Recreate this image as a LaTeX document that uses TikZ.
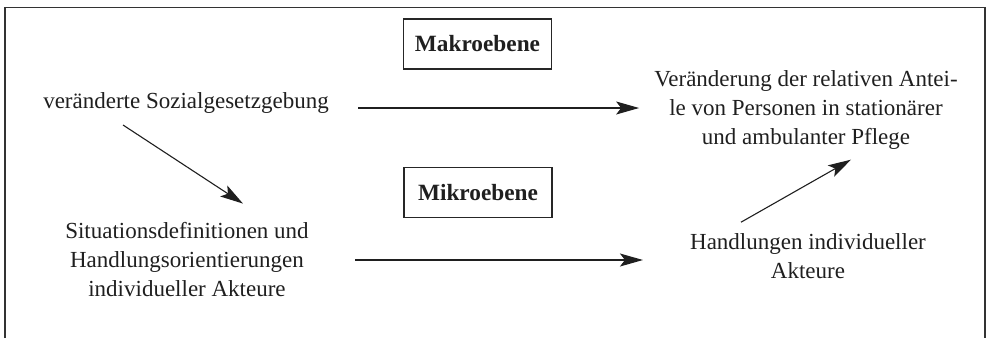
\documentclass[tikz,border=0pt]{standalone}
\usepackage{fontspec}
\setmainfont{Liberation Serif}
\usetikzlibrary{arrows.meta,calc}
\tikzset{
  txt/.style={font=\fontsize{23}{29}\selectfont, text=black!88, align=center, inner sep=0pt},
  lvl/.style={draw=black!85, line width=1.1pt, font=\fontsize{23.3}{26}\selectfont\bfseries, text=black!88, minimum width=148pt, minimum height=50pt, inner sep=0pt},
  arr/.style={draw=black!88, line width=1.1pt, -{Stealth[length=23pt,width=13pt,inset=5pt]}},
  frame/.style={draw=black!80, line width=1.3pt}
}
\begin{document}
\begin{tikzpicture}[x=1pt,y=-1pt]
\useasboundingbox (0,0) rectangle (988,338);
\draw[frame] (5,338) -- (5,7.5) -- (985,7.5) -- (985,338);
\node[lvl] (makro) at (477.5,44) {Makroebene};
\node[lvl] (mikro) at (478,192.5) {Mikroebene};
\node[txt, anchor=base] (sozial) at (186,108) {veränderte Sozialgesetzgebung};
\node[txt] (veraend) at (806,110) {Veränderung der relativen Antei-\\le von Personen in stationärer\\und ambulanter Pflege};
\node[txt] (situ) at (187,260) {Situationsdefinitionen und\\Handlungsorientierungen\\individueller Akteure};
\node[txt] (handl) at (808,256) {Handlungen individueller\\Akteure};
\draw[arr] ($(sozial.base)+(172,0)$) -- ($(veraend.west |- sozial.base)+(-15,0)$);
\draw[arr] ($(situ.center)+(168,0)$) -- ($(handl.west |- situ.center)+(-47,0)$);
\draw[arr] ($(sozial.base)+(-63,17)$) -- ($(situ.north)+(56,-19)$);
\draw[arr] ($(handl.north)+(-67,-11)$) -- ($(veraend.south)+(45,10)$);
\end{tikzpicture}
\end{document}
